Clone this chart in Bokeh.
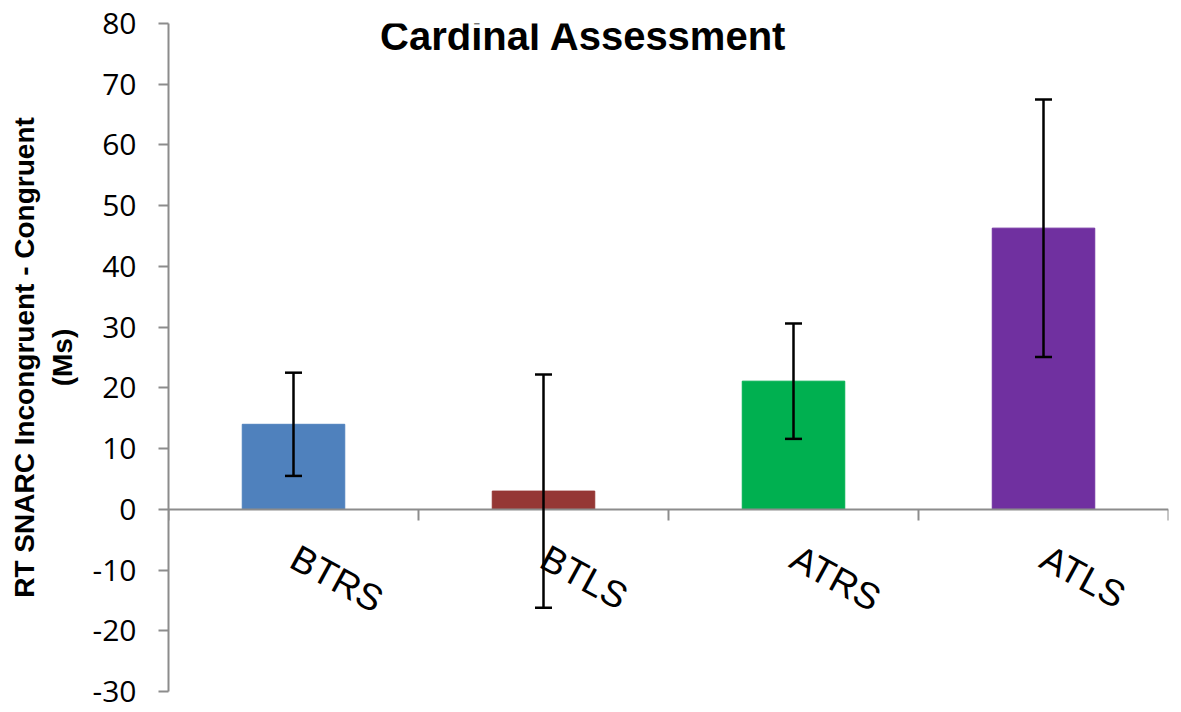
import numpy as np

from bokeh.embed import file_html
from bokeh.models import (ColumnDataSource, FixedTicker, Label, LinearAxis, Range1d,
                          TeeHead, Whisker)
from bokeh.plotting import figure
from bokeh.resources import INLINE

# values
groups = ["BTRS", "BTLS", "ATRS", "ATLS"]
means = [14.0, 3.0, 21.1, 46.3]
errors = [8.5, 19.2, 9.5, 21.2]
colors = ["#4F81BD", "#953735", "#00B050", "#7030A0"]
y_ticks = [-30, -20, -10, 0, 10, 20, 30, 40, 50, 60, 70, 80]

axis_grey = "#8C8C8C"
font = "Liberation Sans"

# one unit per group, bars in the middle of each slot
centers = np.arange(len(groups)) + 0.5
edges = np.arange(len(groups) + 1)

src = ColumnDataSource(data=dict(
    x=centers,
    mean=means,
    color=colors,
    upper=np.array(means) + np.array(errors),
    lower=np.array(means) - np.array(errors),
))

p = figure(x_range=Range1d(edges[0], edges[-1]), y_range=Range1d(y_ticks[0], y_ticks[-1]),
           width=1181, height=712,
           output_backend="svg", toolbar_location=None,
           x_axis_location=None, y_axis_location=None,
           min_border_left=168, min_border_right=13,
           min_border_top=23, min_border_bottom=21)
p.xgrid.visible = False
p.ygrid.visible = False
p.outline_line_color = None

p.vbar(x="x", top="mean", bottom=0, width=0.41, color="color", source=src)

p.add_layout(Whisker(source=src, base="x", upper="upper", lower="lower", level="overlay",
                     line_color="black", line_width=2.5,
                     upper_head=TeeHead(size=17, line_color="black", line_width=2.5),
                     lower_head=TeeHead(size=17, line_color="black", line_width=2.5)))

# y axis
yax = LinearAxis(ticker=FixedTicker(ticks=y_ticks),
                 major_label_overrides={t: str(t) for t in y_ticks},
                 axis_label="RT SNARC Incongruent - Congruent\n(Ms)",
                 axis_label_text_font=font, axis_label_text_font_style="bold",
                 axis_label_text_font_size="28px", axis_label_standoff=12,
                 axis_label_text_color="black",
                 major_label_text_font="Open Sans", major_label_text_font_size="30px",
                 major_label_text_color="black", major_label_standoff=22,
                 axis_line_color=axis_grey, axis_line_width=2,
                 major_tick_line_color=axis_grey, major_tick_line_width=2,
                 major_tick_in=0, major_tick_out=10,
                 minor_tick_line_color=None)
p.add_layout(yax, "left")

# x axis sits on zero: names under the bars, tick marks between the groups
xax = LinearAxis(fixed_location=0,
                 ticker=FixedTicker(ticks=list(centers), minor_ticks=list(edges)),
                 major_label_overrides={float(c): g for c, g in zip(centers, groups)},
                 axis_line_color=axis_grey, axis_line_width=2,
                 major_tick_line_color=None,
                 minor_tick_line_color=axis_grey, minor_tick_line_width=2,
                 minor_tick_in=0, minor_tick_out=11,
                 major_label_orientation=-0.5, major_label_standoff=35,
                 major_label_text_font=font, major_label_text_font_size="37px",
                 major_label_text_color="black")
p.add_layout(xax, "below")

p.add_layout(Label(x=1.66, y=77.9, text="Cardinal Assessment",
                   text_font=font, text_font_style="bold", text_font_size="40px",
                   text_color="black", text_align="center", text_baseline="middle"))

open("out.html", "w").write(file_html(p, INLINE))
